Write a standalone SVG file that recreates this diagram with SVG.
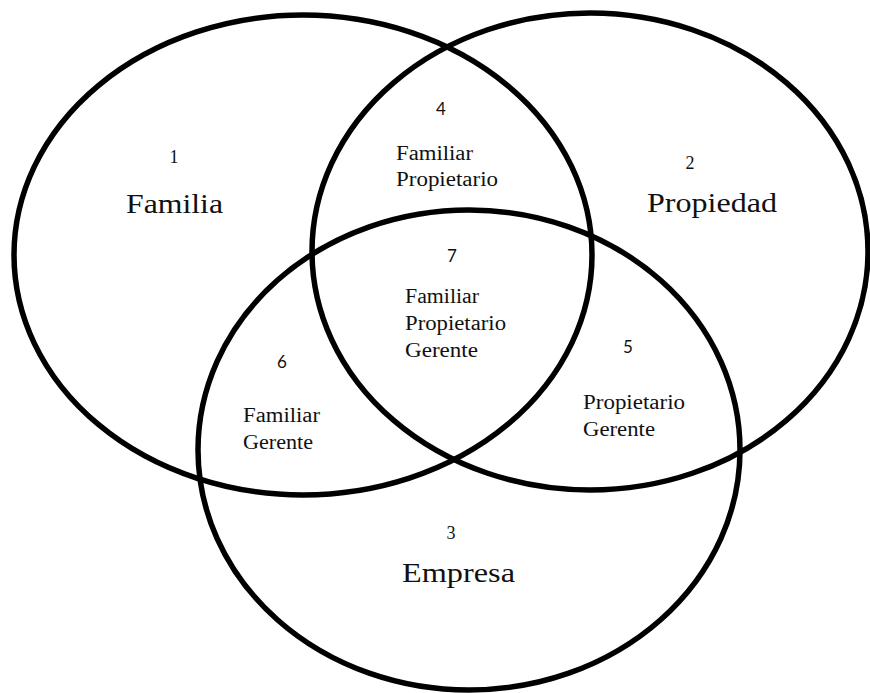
<svg xmlns="http://www.w3.org/2000/svg" width="870" height="693" viewBox="0 0 870 693">
<style>
.set{fill:none;stroke:#000;stroke-width:5.5}
.num{font-family:Lato,"Liberation Sans",sans-serif;font-size:17px;fill:#111;text-anchor:middle}
.nums{font-family:"Times New Roman","Liberation Serif","DejaVu Serif",serif;font-size:18px;fill:#111;text-anchor:middle}
.big{font-family:"Times New Roman","Liberation Serif","DejaVu Serif",serif;font-size:27px;fill:#111}
.lbl{font-family:"Times New Roman","Liberation Serif","DejaVu Serif",serif;font-size:20px;fill:#111}
</style>
<rect width="870" height="693" fill="#fff"/>
<g id="connectors"></g>
<g id="familia">
<ellipse class="set" cx="303" cy="255" rx="289" ry="240"/>
<text class="nums" x="174" y="163">1</text>
<text class="big" x="126" y="213" textLength="97" lengthAdjust="spacingAndGlyphs">Familia</text>
</g>
<g id="propiedad">
<ellipse class="set" cx="590" cy="251.5" rx="278" ry="238.5"/>
<text class="nums" x="690" y="169">2</text>
<text class="big" x="647" y="212" textLength="130" lengthAdjust="spacingAndGlyphs">Propiedad</text>
</g>
<g id="empresa">
<ellipse class="set" cx="469" cy="450" rx="271" ry="240"/>
<text class="nums" x="451" y="539">3</text>
<text class="big" x="402" y="582" textLength="113" lengthAdjust="spacingAndGlyphs">Empresa</text>
</g>
<g id="region4">
<text class="num" x="441" y="115">4</text>
<text class="lbl" x="396" y="160" textLength="77" lengthAdjust="spacingAndGlyphs">Familiar</text>
<text class="lbl" x="396" y="186" textLength="102" lengthAdjust="spacingAndGlyphs">Propietario</text>
</g>
<g id="region7">
<text class="num" x="452" y="262">7</text>
<text class="lbl" x="405" y="303" textLength="74" lengthAdjust="spacingAndGlyphs">Familiar</text>
<text class="lbl" x="405" y="330" textLength="101" lengthAdjust="spacingAndGlyphs">Propietario</text>
<text class="lbl" x="405" y="357" textLength="73" lengthAdjust="spacingAndGlyphs">Gerente</text>
</g>
<g id="region6">
<text class="num" x="282" y="368">6</text>
<text class="lbl" x="243" y="422" textLength="77" lengthAdjust="spacingAndGlyphs">Familiar</text>
<text class="lbl" x="243" y="449" textLength="70" lengthAdjust="spacingAndGlyphs">Gerente</text>
</g>
<g id="region5">
<text class="num" x="628" y="353">5</text>
<text class="lbl" x="583" y="409" textLength="102" lengthAdjust="spacingAndGlyphs">Propietario</text>
<text class="lbl" x="583" y="436" textLength="72" lengthAdjust="spacingAndGlyphs">Gerente</text>
</g>
</svg>
